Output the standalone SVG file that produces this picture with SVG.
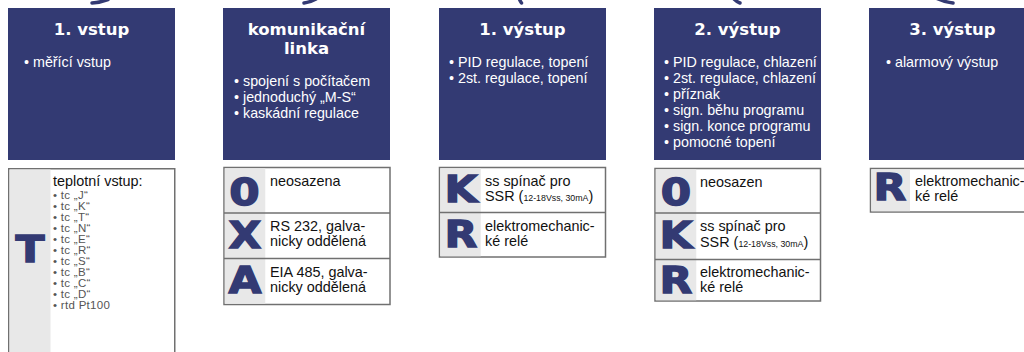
<svg xmlns="http://www.w3.org/2000/svg" width="1024" height="352" viewBox="0 0 1024 352">
<style>
.hdr{fill:#333a73}
.ttl{font-family:"DejaVu Sans",sans-serif;font-weight:bold;font-size:16.5px;fill:#fff;text-anchor:middle}
.bl{font-family:"Liberation Sans",Arial,sans-serif;font-size:14.3px;fill:#fff}
.box{fill:#fff;stroke:#707070;stroke-width:1.5}
.col{fill:#e8e8e8}
.div{stroke:#707070;stroke-width:1.5}
.let{font-family:"DejaVu Sans",sans-serif;font-weight:bold;font-size:38px;fill:#333a73;stroke:#333a73;stroke-width:1.4;text-anchor:middle}
.tx{font-family:"Liberation Sans",Arial,sans-serif;font-size:14.4px;fill:#111}
.sm{font-size:8.8px}
.gr{font-family:"Liberation Sans",Arial,sans-serif;font-size:11.5px;letter-spacing:0.3px;fill:#555}
.arr{fill:none;stroke:#333a73;stroke-width:3.5;stroke-linecap:round}
</style>
<rect width="1024" height="352" fill="#fff"/>
<g id="connectors">
<path class="arr" d="M108,-0.5 Q100,2.5 92,3"/>
<path class="arr" d="M316,-1 Q311,2 304,3"/>
<path class="arr" d="M519,-2 Q520,1 521.5,3"/>
<path class="arr" d="M734,-1 Q737,2 740,3"/>
<path class="arr" d="M936,-2 Q944,2 953,3"/>
</g>
<g id="h1">
<rect class="hdr" x="8" y="8" width="167" height="152"/>
<text class="ttl" x="91.5" y="34.5">1. vstup</text>
<text class="bl" x="24" y="67">• měřící vstup</text>
</g>
<g id="h2">
<rect class="hdr" x="223" y="8" width="167" height="152"/>
<text class="ttl" x="306.5" y="35">komunikační</text>
<text class="ttl" x="306.5" y="54">linka</text>
<text class="bl" x="234" y="86">• spojení s počítačem</text>
<text class="bl" x="234" y="102">• jednoduchý „M-S“</text>
<text class="bl" x="234" y="118">• kaskádní regulace</text>
</g>
<g id="h3">
<rect class="hdr" x="439" y="8" width="167" height="152"/>
<text class="ttl" x="522.5" y="34.5">1. výstup</text>
<text class="bl" x="449" y="67">• PID regulace, topení</text>
<text class="bl" x="449" y="83">• 2st. regulace, topení</text>
</g>
<g id="h4">
<rect class="hdr" x="654" y="8" width="167" height="152"/>
<text class="ttl" x="737.5" y="34.5">2. výstup</text>
<text class="bl" x="664" y="66.5">• PID regulace, chlazení</text>
<text class="bl" x="664" y="82.5">• 2st. regulace, chlazení</text>
<text class="bl" x="664" y="98.5">• příznak</text>
<text class="bl" x="664" y="114.5">• sign. běhu programu</text>
<text class="bl" x="664" y="130.5">• sign. konce programu</text>
<text class="bl" x="664" y="146.5">• pomocné topení</text>
</g>
<g id="h5">
<rect class="hdr" x="869" y="8" width="167" height="152"/>
<text class="ttl" x="952.5" y="34.5">3. výstup</text>
<text class="bl" x="886" y="67">• alarmový výstup</text>
</g>
<g id="o1">
<rect class="box" x="8.75" y="168.75" width="166" height="200"/>
<rect class="col" x="9.5" y="169.5" width="41" height="190"/>
<text class="let" transform="translate(30,262) scale(1.12,1)">T</text>
<text class="tx" x="53" y="186">teplotní vstup:</text>
<text class="gr" x="53" y="199">• tc „J“</text>
<text class="gr" x="53" y="210">• tc „K“</text>
<text class="gr" x="53" y="221">• tc „T“</text>
<text class="gr" x="53" y="232">• tc „N“</text>
<text class="gr" x="53" y="243">• tc „E“</text>
<text class="gr" x="53" y="254">• tc „R“</text>
<text class="gr" x="53" y="265">• tc „S“</text>
<text class="gr" x="53" y="276">• tc „B“</text>
<text class="gr" x="53" y="287">• tc „C“</text>
<text class="gr" x="53" y="298">• tc „D“</text>
<text class="gr" x="53" y="309">• rtd Pt100</text>
</g>
<g id="o2">
<rect class="box" x="224" y="167.5" width="166" height="137"/>
<rect class="col" x="224.75" y="168.25" width="40.5" height="135.5"/>
<line class="div" x1="224" y1="213" x2="390" y2="213"/>
<line class="div" x1="224" y1="258.5" x2="390" y2="258.5"/>
<text class="let" transform="translate(244.5,205) scale(1.15,1)">0</text>
<text class="let" transform="translate(245,248) scale(1.12,1)">X</text>
<text class="let" transform="translate(245,293) scale(1.12,1)">A</text>
<text class="tx" x="270" y="186">neosazena</text>
<text class="tx" x="270" y="231">RS 232, galva-</text>
<text class="tx" x="270" y="246">nicky oddělená</text>
<text class="tx" x="270" y="277">EIA 485, galva-</text>
<text class="tx" x="270" y="292">nicky oddělená</text>
</g>
<g id="o3">
<rect class="box" x="439.5" y="167.5" width="166" height="89.5"/>
<rect class="col" x="440.25" y="168.25" width="40.5" height="88"/>
<line class="div" x1="439.5" y1="212.5" x2="605.5" y2="212.5"/>
<text class="let" transform="translate(461,202) scale(1.12,1)">K</text>
<text class="let" transform="translate(461,247) scale(1.12,1)">R</text>
<text class="tx" x="485" y="186">ss spínač pro</text>
<text class="tx" x="485" y="201">SSR (<tspan class="sm">12-18Vss, 30mA</tspan>)</text>
<text class="tx" x="485" y="231">elektromechanic-</text>
<text class="tx" x="485" y="246">ké relé</text>
</g>
<g id="o4">
<rect class="box" x="655" y="168.5" width="165.5" height="132.5"/>
<rect class="col" x="655.75" y="169.25" width="40.5" height="131"/>
<line class="div" x1="655" y1="213" x2="820.5" y2="213"/>
<line class="div" x1="655" y1="259.5" x2="820.5" y2="259.5"/>
<text class="let" transform="translate(676,205) scale(1.15,1)">0</text>
<text class="let" transform="translate(676,248) scale(1.12,1)">K</text>
<text class="let" transform="translate(676,293) scale(1.12,1)">R</text>
<text class="tx" x="700" y="187">neosazen</text>
<text class="tx" x="700" y="231">ss spínač pro</text>
<text class="tx" x="700" y="247">SSR (<tspan class="sm">12-18Vss, 30mA</tspan>)</text>
<text class="tx" x="700" y="277">elektromechanic-</text>
<text class="tx" x="700" y="292">ké relé</text>
</g>
<g id="o5">
<rect class="box" x="870.5" y="168.5" width="170" height="43.5"/>
<rect class="col" x="871.25" y="169.25" width="38.75" height="42"/>
<text class="let" transform="translate(890,200) scale(1.12,1)">R</text>
<text class="tx" x="915" y="186">elektromechanic-</text>
<text class="tx" x="915" y="201">ké relé</text>
</g>
</svg>
